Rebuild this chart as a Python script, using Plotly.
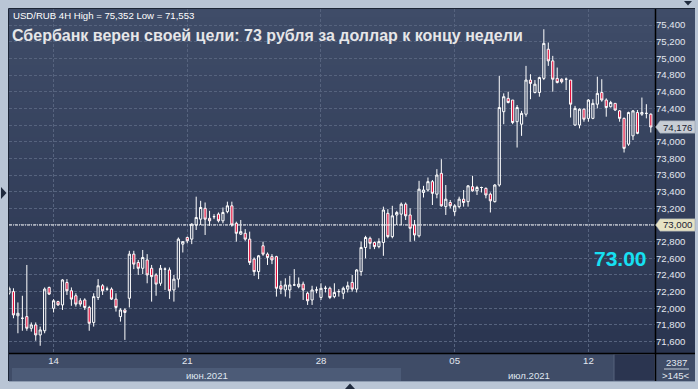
import plotly.graph_objects as go

# ---------------- data (USD/RUB 4H) ----------------
OPEN = [72.18, 72.20, 71.91, 71.88, 71.90, 71.76, 71.80, 71.68, 71.73, 72.25,
        72.00, 72.08, 72.04, 72.31, 72.21, 72.15, 72.09, 72.10, 72.01, 71.83,
        72.13, 72.27, 72.23, 72.23, 72.11, 71.90, 71.98, 72.12, 72.65, 72.55,
        72.48, 72.58, 72.48, 72.40, 72.30, 72.47, 72.46, 72.22, 72.35, 72.77,
        72.85, 72.83, 73.00, 73.07, 73.20, 73.08, 73.10, 73.13, 73.05, 73.16,
        73.23, 73.02, 72.89, 72.90, 72.83, 72.59, 72.44, 72.75, 72.65, 72.62,
        72.62, 72.27, 72.22, 72.22, 72.28, 72.26, 72.29, 72.18, 72.10, 72.22,
        72.13, 72.24, 72.24, 72.14, 72.20, 72.18, 72.23, 72.31, 72.23, 72.44,
        72.73, 72.84, 72.79, 72.74, 72.79, 73.14, 72.86, 73.12, 73.13, 73.25,
        73.12, 73.00, 72.87, 73.39, 73.42, 73.52, 73.37, 73.62, 73.22, 73.27,
        73.16, 73.22, 73.31, 73.28, 73.46, 73.41, 73.45, 73.44, 73.37, 73.28,
        73.48, 74.36, 74.52, 74.50, 74.24, 74.21, 74.33, 74.74, 74.59, 74.59,
        74.76, 75.11, 74.97, 74.76, 74.75, 74.75, 74.74, 74.20, 74.20, 74.39,
        74.28, 74.28, 74.45, 74.59, 74.50, 74.42, 74.46, 74.37, 74.28, 73.97,
        74.07, 74.35, 74.33, 74.34, 74.33]
HIGH = [72.26, 72.24, 72.07, 72.15, 72.52, 71.83, 71.83, 71.78, 72.25, 72.26,
        72.11, 72.09, 72.35, 72.35, 72.25, 72.18, 72.12, 72.12, 72.03, 72.18,
        72.35, 72.29, 72.26, 72.25, 72.18, 72.00, 72.00, 72.69, 72.69, 72.58,
        72.70, 72.65, 72.52, 72.42, 72.52, 72.49, 72.49, 72.40, 72.85, 72.80,
        72.86, 73.02, 73.34, 73.29, 73.27, 73.17, 73.13, 73.15, 73.21, 73.28,
        73.28, 73.04, 73.06, 72.95, 72.92, 72.61, 72.64, 72.80, 72.67, 72.65,
        72.63, 72.33, 72.36, 72.39, 72.47, 72.37, 72.32, 72.20, 72.27, 72.26,
        72.30, 72.27, 72.26, 72.30, 72.23, 72.26, 72.32, 72.40, 72.47, 72.80,
        72.87, 72.86, 72.80, 72.84, 73.22, 73.19, 73.23, 73.17, 73.27, 73.27,
        73.20, 73.06, 73.53, 73.47, 73.57, 73.54, 73.67, 73.79, 73.48, 73.30,
        73.25, 73.34, 73.42, 73.48, 73.59, 73.47, 73.46, 73.45, 73.39, 73.49,
        74.79, 74.58, 74.60, 74.50, 74.44, 74.37, 74.91, 74.81, 74.74, 74.78,
        75.35, 75.19, 75.03, 74.89, 74.76, 74.77, 74.74, 74.43, 74.40, 74.40,
        74.51, 74.51, 74.78, 74.75, 74.52, 74.49, 74.46, 74.38, 74.29, 74.36,
        74.38, 74.38, 74.53, 74.45, 74.34]
LOW = [72.16, 71.88, 71.70, 71.73, 71.73, 71.72, 71.61, 71.55, 71.70, 72.16,
       71.95, 72.03, 71.98, 72.16, 72.03, 72.02, 72.02, 71.98, 71.73, 71.78,
       72.10, 72.16, 72.21, 72.10, 71.96, 71.84, 71.62, 72.01, 72.47, 72.40,
       72.41, 72.30, 72.08, 72.15, 72.27, 72.22, 72.11, 72.08, 72.25, 72.67,
       72.78, 72.77, 72.94, 73.00, 72.88, 72.99, 73.07, 73.03, 73.02, 73.14,
       72.98, 72.80, 72.88, 72.81, 72.52, 72.39, 72.35, 72.63, 72.52, 72.53,
       72.14, 72.17, 72.14, 72.12, 72.27, 72.24, 72.10, 72.04, 72.04, 72.18,
       72.10, 72.19, 72.11, 72.12, 72.14, 72.11, 72.19, 72.20, 72.19, 72.39,
       72.60, 72.71, 72.71, 72.72, 72.63, 72.84, 72.84, 73.00, 73.00, 73.06,
       72.80, 72.81, 72.85, 73.33, 73.40, 73.24, 73.32, 73.22, 73.12, 73.20,
       73.11, 73.20, 73.22, 73.22, 73.40, 73.36, 73.39, 73.32, 73.15, 73.27,
       73.46, 74.21, 74.46, 74.21, 73.93, 74.07, 74.30, 74.51, 74.58, 74.54,
       74.74, 74.91, 74.60, 74.70, 74.70, 74.62, 74.29, 74.19, 74.16, 74.24,
       74.24, 74.27, 74.40, 74.48, 74.30, 74.41, 74.37, 74.24, 73.87, 73.95,
       74.02, 74.09, 74.31, 74.28, 74.11]
CLOSE = [72.24, 71.92, 71.94, 71.88, 71.76, 71.80, 71.68, 71.74, 72.23, 72.17,
         72.09, 72.04, 72.34, 72.21, 72.11, 72.05, 72.05, 72.01, 71.82, 72.14,
         72.27, 72.21, 72.23, 72.11, 72.01, 71.98, 71.95, 72.65, 72.53, 72.48,
         72.61, 72.40, 72.38, 72.29, 72.48, 72.47, 72.21, 72.35, 72.83, 72.80,
         72.81, 73.01, 73.09, 73.21, 73.07, 73.05, 73.10, 73.05, 73.15, 73.23,
         73.00, 72.90, 72.92, 72.83, 72.55, 72.44, 72.63, 72.65, 72.61, 72.58,
         72.24, 72.23, 72.28, 72.28, 72.28, 72.29, 72.22, 72.09, 72.22, 72.22,
         72.24, 72.24, 72.13, 72.19, 72.20, 72.24, 72.27, 72.23, 72.46, 72.73,
         72.85, 72.78, 72.74, 72.80, 73.18, 72.86, 73.11, 73.15, 73.25, 73.11,
         72.96, 72.88, 73.43, 73.42, 73.52, 73.38, 73.60, 73.23, 73.31, 73.23,
         73.23, 73.31, 73.27, 73.47, 73.41, 73.45, 73.45, 73.36, 73.29, 73.48,
         74.41, 74.54, 74.47, 74.23, 74.41, 74.34, 74.74, 74.70, 74.69, 74.77,
         75.18, 74.97, 74.75, 74.71, 74.72, 74.75, 74.45, 74.40, 74.39, 74.27,
         74.50, 74.46, 74.58, 74.50, 74.41, 74.47, 74.38, 74.28, 73.92, 74.35,
         74.37, 74.10, 74.35, 74.34, 74.176]
BAR_INDEX = list(range(len(CLOSE)))

DATE_TICK_BARS = [10, 40, 70, 100, 130]
DATE_TICK_LABELS = ["14", "21", "28", "05", "12"]
MONTH_LABELS = ["июн.2021", "июл.2021"]

PRICE_TICKS = [71.6, 71.8, 72.0, 72.2, 72.4, 72.6, 72.8, 73.0, 73.2, 73.4,
               73.6, 73.8, 74.0, 74.2, 74.4, 74.6, 74.8, 75.0, 75.2, 75.4]
PRICE_TICK_LABELS = ["71,600", "71,800", "72,000", "72,200", "72,400", "72,600",
                     "72,800", "", "73,200", "73,400", "73,600", "73,800",
                     "74,000", "", "74,400", "74,600", "74,800", "75,000",
                     "75,200", "75,400"]
TARGET = 73.0
LAST = CLOSE[-1]
TITLE = "Сбербанк верен своей цели: 73 рубля за доллар к концу недели"
SUBTITLE = "USD/RUB 4H High = 75,352 Low = 71,553"
TARGET_TEXT = "73.00"
BARS_TEXT = ["2387", ">145<"]

# ---------------- layout geometry ----------------
W, H = 698, 389
ML, MR, MT, MB = 9, 43, 9, 36
PW = W - ML - MR
PH = H - MT - MB


def px(x):
    return (x - ML) / PW


def py(y):
    return (H - MB - y) / PH


fig = go.Figure()
fig.add_trace(go.Candlestick(
    x=BAR_INDEX, open=OPEN, high=HIGH, low=LOW, close=CLOSE,
    increasing=dict(line=dict(color="#ffffff", width=1), fillcolor="rgba(0,0,0,0)"),
    decreasing=dict(line=dict(color="#ffffff", width=1), fillcolor="#e3103c"),
    whiskerwidth=0, hoverinfo="skip", showlegend=False,
))

shapes = []
# gradient background (plot + price panel)
top = (63, 76, 104)
bot = (42, 53, 80)
N = 43
y0p, y1p = 9, 353
for k in range(N):
    t = (k + 0.5) / N
    c = tuple(int(round(top[j] + (bot[j] - top[j]) * t)) for j in range(3))
    ya = y0p + (y1p - y0p) * k / N
    yb = y0p + (y1p - y0p) * (k + 1) / N
    shapes.append(dict(type="rect", xref="paper", yref="paper", layer="below",
                       x0=px(9), x1=px(695), y0=py(yb + 0.5), y1=py(ya),
                       fillcolor="rgb(%d,%d,%d)" % c, line=dict(width=0)))
# bottom time panel
shapes.append(dict(type="rect", xref="paper", yref="paper", layer="below",
                   x0=px(9), x1=px(695), y0=py(381), y1=py(353),
                   fillcolor="#3f4c67", line=dict(width=0)))
# June month band (lighter)
shapes.append(dict(type="rect", xref="paper", yref="paper", layer="below",
                   x0=px(12), x1=px(401), y0=py(381), y1=py(368),
                   fillcolor="#4c5b77", line=dict(width=0)))
# scroll box
shapes.append(dict(type="rect", xref="paper", yref="paper", layer="below",
                   x0=px(614), x1=px(655), y0=py(381), y1=py(354),
                   fillcolor="#2b3550", line=dict(color="#56637d", width=1)))
# separators
shapes.append(dict(type="line", xref="paper", yref="paper", layer="above",
                   x0=px(655.5), x1=px(655.5), y0=py(381), y1=py(9),
                   line=dict(color="#000000", width=1.5)))
shapes.append(dict(type="line", xref="paper", yref="paper", layer="above",
                   x0=px(9), x1=px(695), y0=py(353.5), y1=py(353.5),
                   line=dict(color="#000000", width=1.5)))
# dark outer border on left / top
shapes.append(dict(type="line", xref="paper", yref="paper", layer="above",
                   x0=px(8.5), x1=px(8.5), y0=py(381), y1=py(8.5),
                   line=dict(color="#1c2536", width=1)))
shapes.append(dict(type="line", xref="paper", yref="paper", layer="above",
                   x0=px(8.5), x1=px(695), y0=py(8.5), y1=py(8.5),
                   line=dict(color="#1c2536", width=1)))
shapes.append(dict(type="line", xref="paper", yref="paper", layer="above",
                   x0=px(9), x1=px(695), y0=py(381.5), y1=py(381.5),
                   line=dict(color="#8d9bb0", width=1)))
# line between bar counters
shapes.append(dict(type="line", xref="paper", yref="paper", layer="above",
                   x0=px(664), x1=px(689), y0=py(369), y1=py(369),
                   line=dict(color="#c8d0dc", width=1)))
# target dash-dot line
shapes.append(dict(type="line", xref="paper", yref="y", layer="above",
                   x0=0, x1=1, y0=TARGET, y1=TARGET,
                   line=dict(color="#ffffff", width=1, dash="3px,1px,1px,1px")))


def tri(points, color):
    d = "M " + " L ".join("%f,%f" % (px(a), py(b)) for a, b in points) + " Z"
    return dict(type="path", xref="paper", yref="paper", layer="above", path=d,
                fillcolor=color, line=dict(width=0))


shapes.append(tri([(1, 187), (6.5, 193), (1, 199)], "#1f2a3d"))
shapes.append(tri([(684, 1), (692, 1), (688, 5.5)], "#1f2a3d"))
shapes.append(tri([(345, 389), (355, 389), (350, 383.5)], "#1f2a3d"))

# price boxes on the right axis
unit = PH / (75.593 - 71.463)


def price_box(val, color):
    h = 6.2 / unit
    d = "M %f,%f L %f,%f L %f,%f L %f,%f L %f,%f L %f,%f Z" % (
        px(655.5), val, px(660), val + h, px(695), val + h,
        px(695), val - h, px(660), val - h, px(655.5), val)
    return dict(type="path", xref="paper", yref="y", layer="above", path=d,
                fillcolor=color, line=dict(color="#8c96a6", width=0.5))


shapes.append(price_box(LAST, "#c8cdd5"))
shapes.append(price_box(TARGET, "#e7e3c4"))

annotations = [
    dict(text=SUBTITLE, x=px(11), y=py(15.5), xref="paper", yref="paper",
         xanchor="left", yanchor="middle", showarrow=False,
         font=dict(family="Liberation Sans, Arial", size=9.6, color="#ffffff")),
    dict(text="<b>" + TITLE + "</b>", x=px(10), y=py(35), xref="paper", yref="paper",
         xanchor="left", yanchor="middle", showarrow=False,
         font=dict(family="Liberation Sans, Arial", size=16, color="#e6e6e8")),
    dict(text="<b>" + TARGET_TEXT + "</b>", x=px(649), y=py(258), xref="paper",
         yref="paper", xanchor="right", yanchor="middle", showarrow=False,
         font=dict(family="Liberation Sans, Arial", size=21, color="#16e0f2")),
    dict(text=MONTH_LABELS[0], x=px(207), y=py(375), xref="paper", yref="paper",
         xanchor="center", yanchor="middle", showarrow=False,
         font=dict(family="Liberation Sans, Arial", size=9.6, color="#dfe5ee")),
    dict(text=MONTH_LABELS[1], x=px(529), y=py(375), xref="paper", yref="paper",
         xanchor="center", yanchor="middle", showarrow=False,
         font=dict(family="Liberation Sans, Arial", size=9.6, color="#dfe5ee")),
    dict(text=BARS_TEXT[0], x=px(676), y=py(362), xref="paper", yref="paper",
         xanchor="center", yanchor="middle", showarrow=False,
         font=dict(family="Liberation Sans, Arial", size=9.6, color="#e3e8f0")),
    dict(text=BARS_TEXT[1], x=px(676), y=py(376), xref="paper", yref="paper",
         xanchor="center", yanchor="middle", showarrow=False,
         font=dict(family="Liberation Sans, Arial", size=9.6, color="#e3e8f0")),
    dict(text=("%.3f" % LAST).replace(".", ","), x=px(661), y=LAST, xref="paper",
         yref="y", xanchor="left", yanchor="middle", showarrow=False,
         font=dict(family="Liberation Sans, Arial", size=9.6, color="#1b2232")),
    dict(text=("%.3f" % TARGET).replace(".", ","), x=px(661), y=TARGET, xref="paper",
         yref="y", xanchor="left", yanchor="middle", showarrow=False,
         font=dict(family="Liberation Sans, Arial", size=9.6, color="#1b2232")),
]

grid = "#56637e"
fig.update_layout(
    width=W, height=H,
    margin=dict(l=ML, r=MR, t=MT, b=MB, pad=0),
    paper_bgcolor="#b9c5d5", plot_bgcolor="#36425e",
    shapes=shapes, annotations=annotations, showlegend=False,
    hovermode=False,
    xaxis=dict(range=[0, 144.94], rangeslider=dict(visible=False),
               tickmode="array", tickvals=DATE_TICK_BARS, ticktext=DATE_TICK_LABELS,
               showgrid=True, gridcolor=grid, griddash="3px,2px", gridwidth=1,
               zeroline=False, showline=False, ticks="",
               tickfont=dict(family="Liberation Sans, Arial", size=9.6, color="#e3e8f0")),
    yaxis=dict(range=[71.463, 75.593], side="right",
               tickmode="array", tickvals=PRICE_TICKS, ticktext=PRICE_TICK_LABELS,
               showgrid=True, gridcolor=grid, griddash="3px,2px", gridwidth=1,
               zeroline=False, showline=False, ticks="",
               tickfont=dict(family="Liberation Sans, Arial", size=9.6, color="#e3e8f0")),
)

fig.write_html("out.html", config={"displayModeBar": False})
